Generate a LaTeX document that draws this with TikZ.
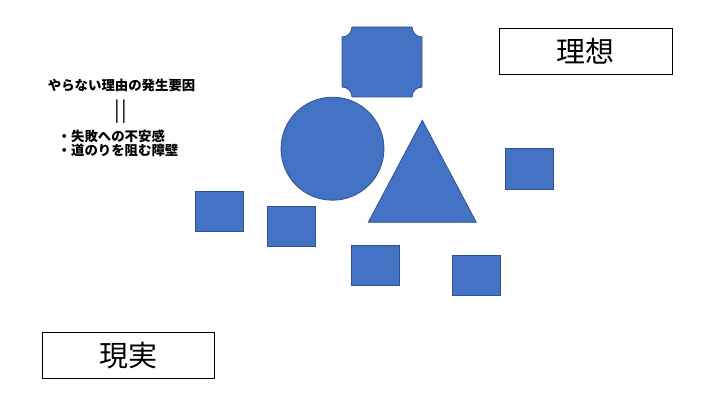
\documentclass[tikz,border=0pt]{standalone}
\usepackage{fontspec}
\newfontfamily\cjk{Noto Sans CJK JP}
\definecolor{shapeblue}{HTML}{4472C4}
\definecolor{shapeedge}{HTML}{2F528F}
\tikzset{
  blueshape/.style={fill=shapeblue, draw=shapeedge, line width=0.8pt},
  labelbox/.style={draw=black, line width=0.9pt, minimum width=173pt, minimum height=46.5pt, inner sep=0pt, font=\cjk\fontsize{29}{32}\selectfont},
  note/.style={font=\cjk\bfseries\fontsize{13.4}{15}\selectfont, inner sep=0pt, anchor=west}
}
\begin{document}
\begin{tikzpicture}[x=1pt,y=1pt]
\useasboundingbox (0,0) rectangle (720,405);
% plaque
\draw[blueshape] (352,378) -- (412,378) arc[start angle=180,end angle=270,radius=10pt]
  -- (422,318) arc[start angle=90,end angle=180,radius=10pt]
  -- (352,308) arc[start angle=0,end angle=90,radius=10pt]
  -- (342,368) arc[start angle=270,end angle=360,radius=10pt] -- cycle;
% circle
\draw[blueshape] (332.5,256.3) circle[radius=51.5pt];
% triangle
\draw[blueshape] (422.3,284.7) -- (476.3,182.7) -- (368.3,182.7) -- cycle;
% squares
\draw[blueshape] (505,215.7) rectangle (553.7,256.7);
\draw[blueshape] (195.3,173.7) rectangle (243.7,214);
\draw[blueshape] (267,158.7) rectangle (315.7,199);
\draw[blueshape] (351,119.7) rectangle (399.7,160);
\draw[blueshape] (452,109.7) rectangle (500.7,150);
% label boxes
\node[labelbox] (ideal) at (585.8,353.3) {理想};
\node[labelbox, minimum width=171.6pt, minimum height=45.7pt] (real) at (128.5,49.85) {現実};
% notes
\node[note, anchor=center] (reason) at (121.6,319.3) {やらない理由の発生要因};
\node[font=\cjk\fontsize{21}{22}\selectfont, inner sep=0pt] (eq) at (120.7,293) {|\kern1pt|};
\node[note] (item1) at (57.5,268.3) {・失敗への不安感};
\node[note] (item2) at (57.5,255) {・道のりを阻む障壁};
\end{tikzpicture}
\end{document}
